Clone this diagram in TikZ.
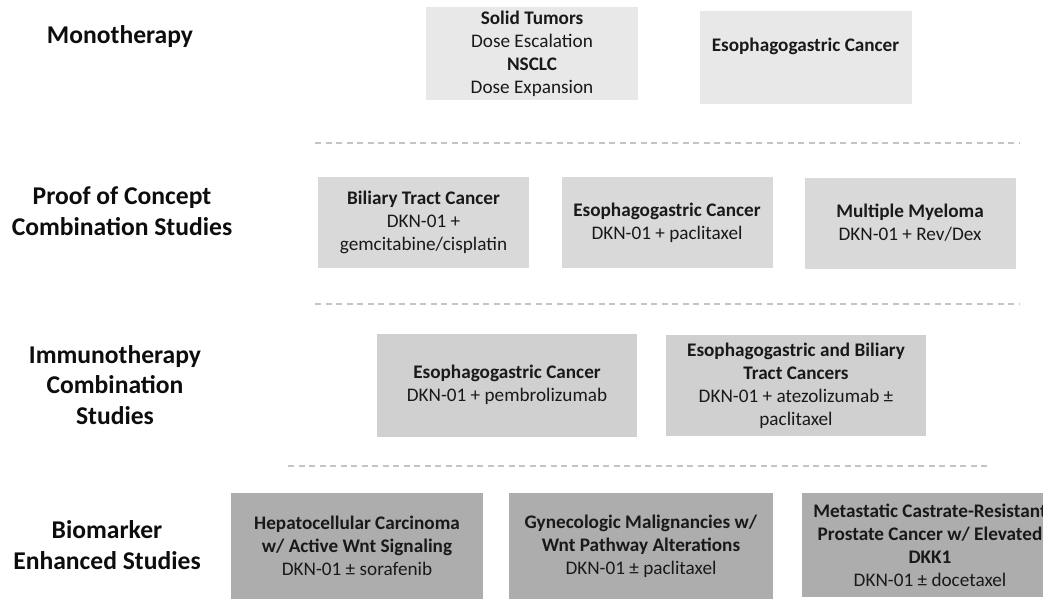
\documentclass[tikz,border=0pt]{standalone}
\usepackage{fontspec}
\setmainfont{Carlito}
\usetikzlibrary{shapes}
\definecolor{monofill}{HTML}{E8E8E8}
\definecolor{pocfill}{HTML}{D9D9D9}
\definecolor{immfill}{HTML}{D0D0D0}
\definecolor{biofill}{HTML}{ADADAD}
\definecolor{sepline}{HTML}{C4C4C4}
\tikzset{
    cell/.style = {rectangle, align=center, inner sep=0pt, text=black!90, font=\fontsize{19.2}{23}\selectfont},
    monocell/.style = {cell, fill=monofill, minimum width=212pt, minimum height=93pt},
    poccell/.style = {cell, fill=pocfill, minimum width=211pt, minimum height=91pt},
    immcell/.style = {cell, fill=immfill, minimum width=260pt, minimum height=103pt},
    biocell/.style = {cell, fill=biofill, minimum height=106pt},
    rowlabel/.style = {align=center, text=black!95, font=\fontsize{25.6}{30.5}\selectfont\bfseries},
    divider/.style = {line width=1.6pt, draw=sepline, dash pattern=on 6pt off 4.5pt}
}

\begin{document}
\begin{tikzpicture}[x=1pt, y=-1pt]
  \useasboundingbox (0,0) rectangle (1043,598);
  \clip (0,0) rectangle (1043,598);

  % row labels
  \node[rowlabel] (lmono) at (120,37) {Monotherapy};
  \node[rowlabel] (lpoc) at (122,211) {Proof of Concept\\Combination Studies};
  \node[rowlabel] (limm) at (115,385) {Immunotherapy\\Combination\\Studies};
  \node[rowlabel] (lbio) at (107,545) {Biomarker\\Enhanced Studies};

  % monotherapy
  \node[monocell] (mono1) at (532,53.5) {\textbf{Solid Tumors}\\Dose Escalation\\\textbf{NSCLC}\\Dose Expansion};
  \node[monocell, text depth=24pt] (mono2) at (805.5,57) {\textbf{Esophagogastric Cancer}};

  % proof of concept
  \node[poccell] (poc1) at (423.5,222.5) {\textbf{Biliary Tract Cancer}\\DKN-01 +\\gemcitabine/cisplatin};
  \node[poccell] (poc2) at (667,222.5) {\textbf{Esophagogastric Cancer}\\DKN-01 + paclitaxel};
  \node[poccell] (poc3) at (910,223) {\textbf{Multiple Myeloma}\\DKN-01 + Rev/Dex};

  % immunotherapy
  \node[immcell] (imm1) at (507,385) {\textbf{Esophagogastric Cancer}\\DKN-01 + pembrolizumab};
  \node[immcell, minimum height=101pt] (imm2) at (796,385.5) {\textbf{Esophagogastric and Biliary}\\\textbf{Tract Cancers}\\DKN-01 + atezolizumab ±\\paclitaxel};

  % biomarker
  \node[biocell, minimum width=252pt] (bio1) at (357,546) {\textbf{Hepatocellular Carcinoma}\\\textbf{w/ Active Wnt Signaling}\\DKN-01 ± sorafenib};
  \node[biocell, minimum width=264pt] (bio2) at (641,546) {\textbf{Gynecologic Malignancies w/}\\\textbf{Wnt Pathway Alterations}\\DKN-01 ± paclitaxel};
  \node[biocell, minimum width=256pt, minimum height=104pt] (bio3) at (930,545) {\textbf{Metastatic Castrate-Resistant}\\\textbf{Prostate Cancer w/ Elevated}\\\textbf{DKK1}\\DKN-01 ± docetaxel};

  % dividers
  \foreach \y/\a/\b in {143/315/1020, 304/315/1020, 466/288/991}
    \draw[divider] (\a,\y) -- (\b,\y);

\end{tikzpicture}
\end{document}
